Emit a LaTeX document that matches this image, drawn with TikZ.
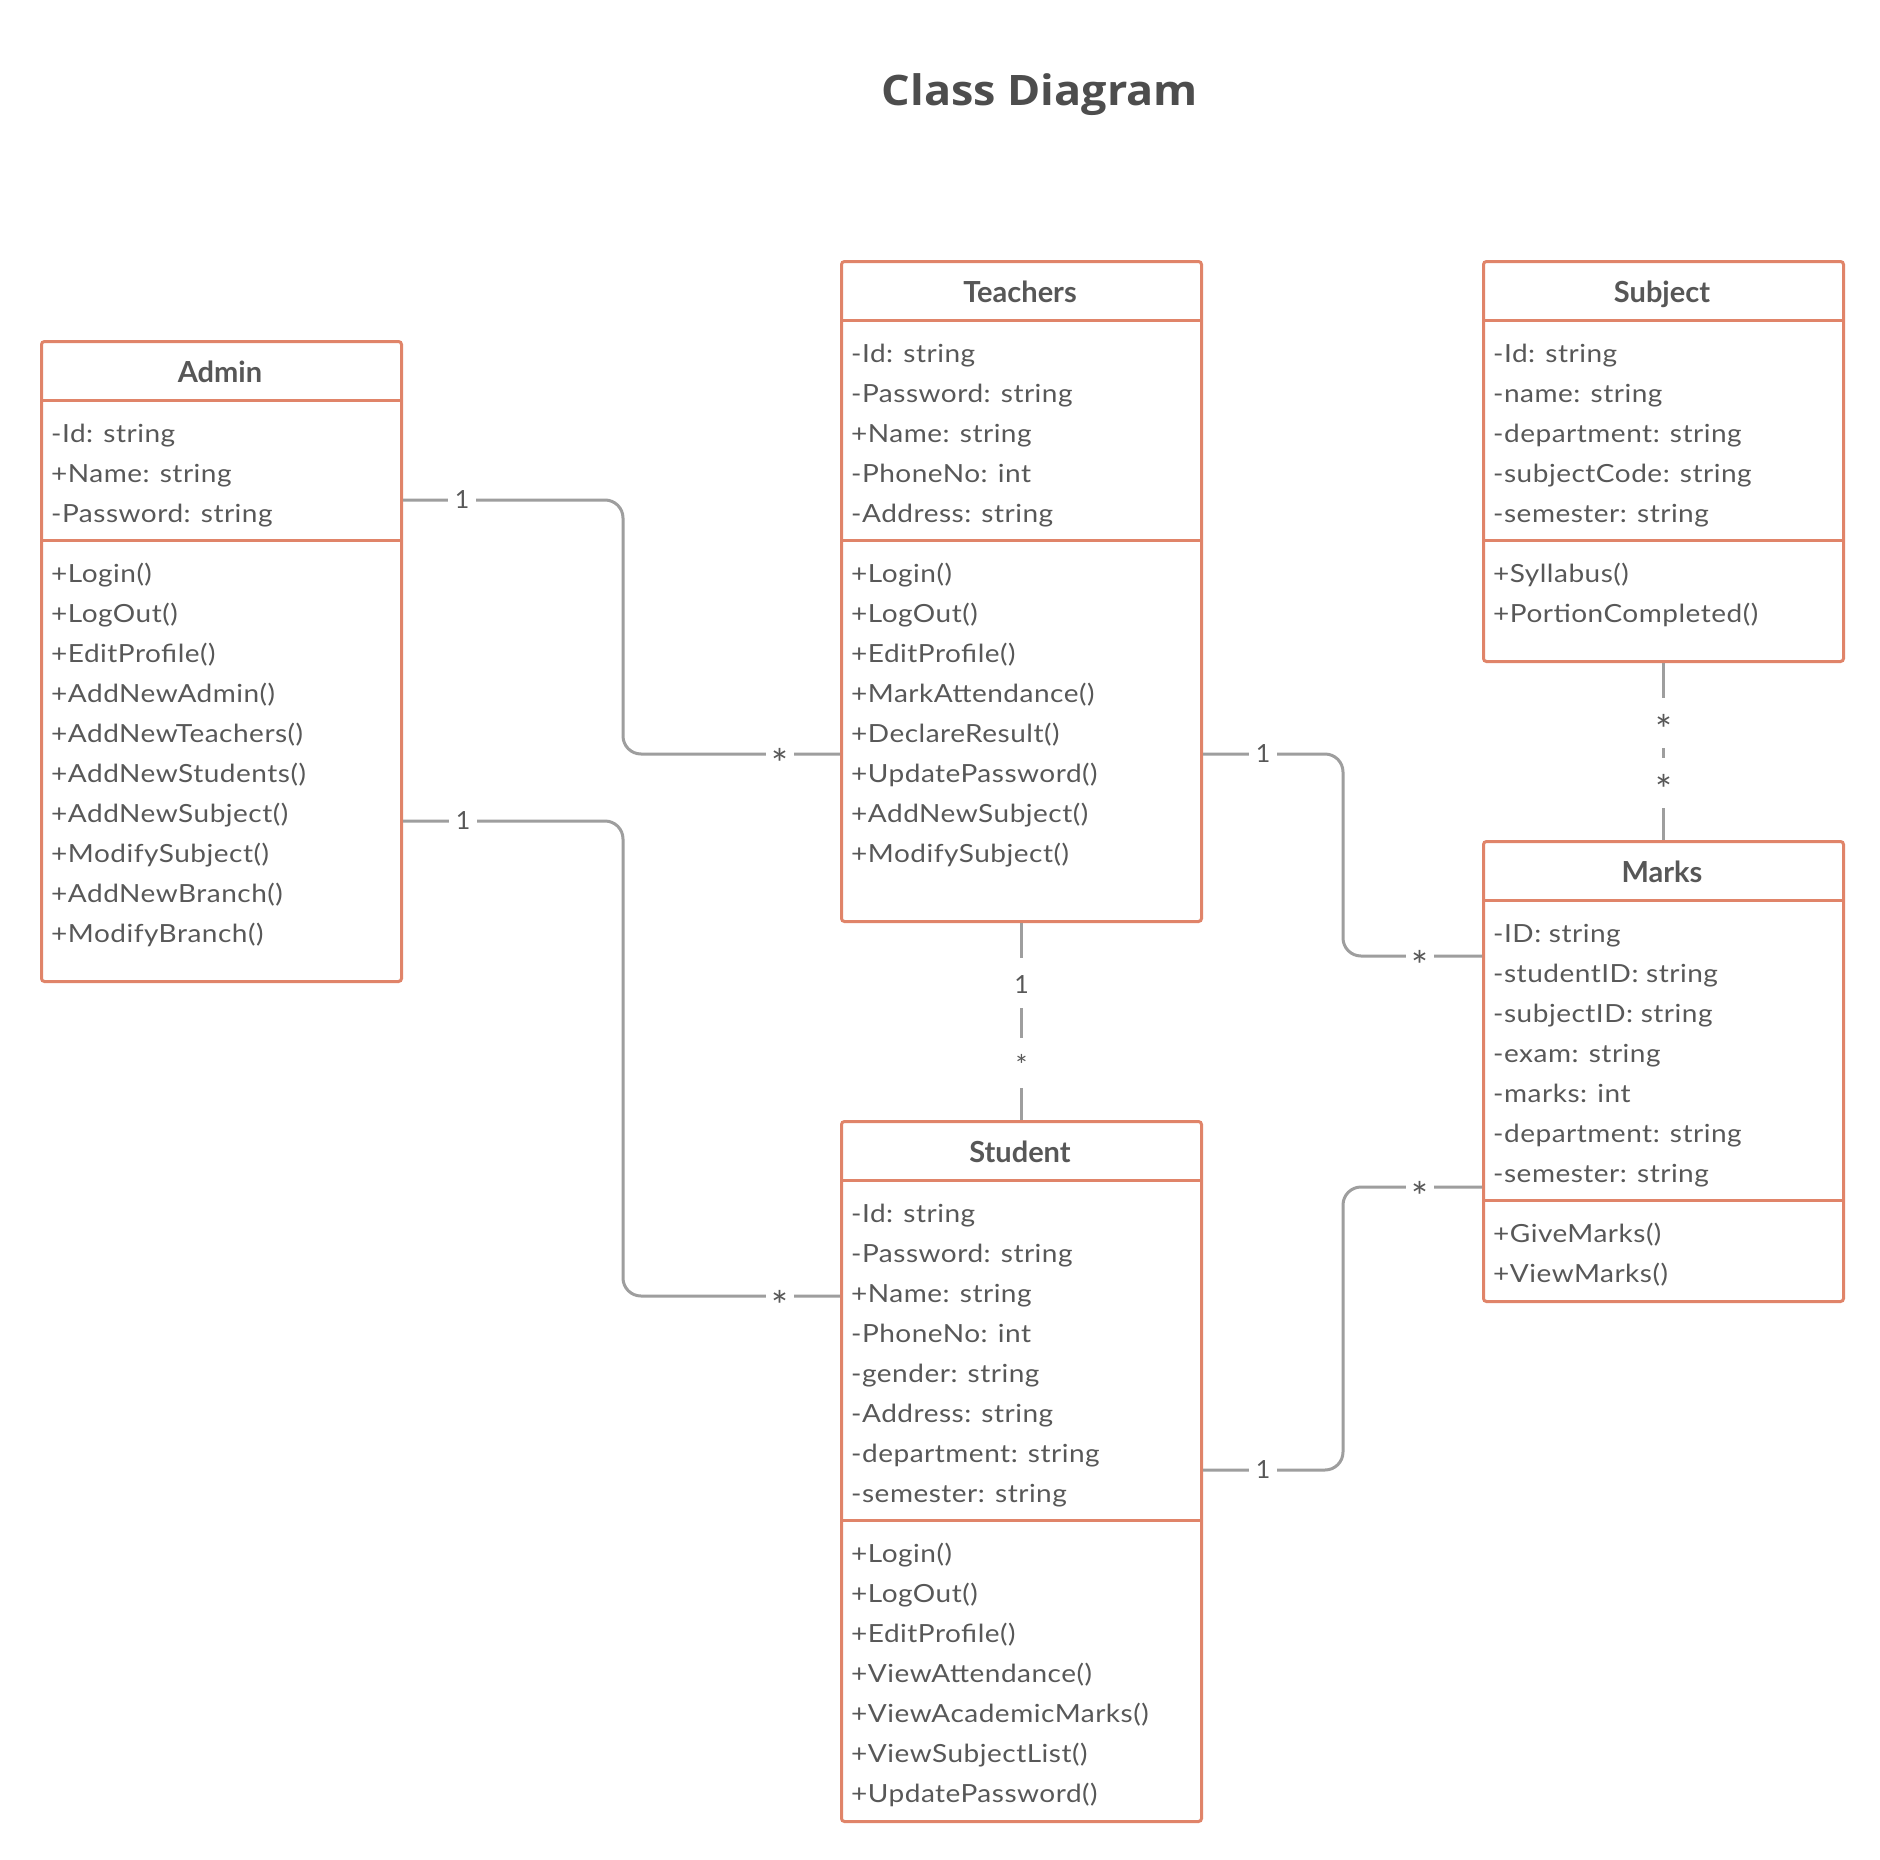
\documentclass[tikz,border=0pt]{standalone}
\usepackage{fontspec}
\setmainfont{Lato}
\newfontfamily\bodyfont{Lato}[FakeStretch=1.12, LetterSpace=2]
\newfontfamily\titlefont{Open Sans}[FakeStretch=1.07]
\usetikzlibrary{calc}
\definecolor{boxc}{HTML}{E08469}
\definecolor{linec}{HTML}{9E9E9E}
\definecolor{txt}{HTML}{585858}
\definecolor{hdr}{HTML}{575757}
\definecolor{ttl}{HTML}{4D4D4D}
\tikzset{
  classbox/.style={draw=boxc, line width=3pt, rounded corners=3pt, fill=white, inner sep=0pt, anchor=north west, minimum width=360pt},
  sepline/.style={draw=boxc, line width=3pt},
  rowtext/.style={anchor=base west, inner sep=0pt, text=txt, font=\bodyfont\fontsize{25}{28}\selectfont},
  hdrtext/.style={anchor=base, inner sep=0pt, text=hdr, font=\bfseries\fontsize{29}{32}\selectfont},
  conn/.style={draw=linec, line width=3pt, rounded corners=18pt},
  hgap/.style={fill=white, inner sep=0pt, minimum width=28pt, minimum height=12pt},
  vgap/.style={fill=white, inner sep=0pt, minimum width=12pt, minimum height=50pt},
  one/.style={inner sep=0pt, text=txt, font=\fontsize{25}{28}\selectfont},
  star/.style={inner sep=0pt, text=txt, font=\fontsize{40}{44}\selectfont, yshift=-9pt},
  smallstar/.style={inner sep=0pt, text=txt, font=\fontsize{28}{30}\selectfont, yshift=-6pt},
}
\newcommand\umlclass[8]{%
  \node[classbox, minimum height=#4pt] (#1) at (#2,#3) {};
  \draw[sepline] ([yshift=-60pt]#1.north west) -- ([yshift=-60pt]#1.north east);
  \draw[sepline] ([yshift=-#6pt]#1.north west) -- ([yshift=-#6pt]#1.north east);
  \node[hdrtext] (#1-title) at ({#2+180},{#3+42}) {#5};
  \foreach \t [count=\i from 0] in {#7}
    \node[rowtext] (#1-a\i) at ({#2+11},{#3+102+40*\i}) {\t};
  \foreach \t [count=\i from 0] in {#8}
    \node[rowtext] (#1-m\i) at ({#2+11},{#3+#6+42+40*\i}) {\t};
}
\begin{document}
\begin{tikzpicture}[x=1pt,y=-1pt]
\useasboundingbox[fill=white] (0,0) rectangle (1880,1860);

\node[anchor=base, inner sep=0pt, text=ttl, font=\titlefont\bfseries\fontsize{42}{48}\selectfont] (title) at (1040,106) {Class Diagram};

\umlclass{admin}{40}{340}{640}{Admin}{200}
  {-Id: string,+Name: string,-Password: string}
  {+Login(),+LogOut(),+EditProfile(),+AddNewAdmin(),+AddNewTeachers(),+AddNewStudents(),+AddNewSubject(),+ModifySubject(),+AddNewBranch(),+ModifyBranch()}

\umlclass{teachers}{840}{260}{660}{Teachers}{280}
  {-Id: string,-Password: string,+Name: string,-PhoneNo: int,-Address: string}
  {+Login(),+LogOut(),+EditProfile(),+MarkAttendance(),+DeclareResult(),+UpdatePassword(),+AddNewSubject(),+ModifySubject()}

\umlclass{subject}{1482}{260}{400}{Subject}{280}
  {-Id: string,-name: string,-department: string,-subjectCode: string,-semester: string}
  {+Syllabus(),+PortionCompleted()}

\umlclass{marks}{1482}{840}{460}{Marks}{360}
  {-ID: string,-studentID: string,-subjectID: string,-exam: string,-marks: int,-department: string,-semester: string}
  {+GiveMarks(),+ViewMarks()}

\umlclass{student}{840}{1120}{700}{Student}{400}
  {-Id: string,-Password: string,+Name: string,-PhoneNo: int,-gender: string,-Address: string,-department: string,-semester: string}
  {+Login(),+LogOut(),+EditProfile(),+ViewAttendance(),+ViewAcademicMarks(),+ViewSubjectList(),+UpdatePassword()}

% Admin - Teachers
\coordinate (c1s) at ([yshift=-160pt]admin.north east);
\coordinate (c1e) at ([yshift=-494pt]teachers.north west);
\draw[conn] (c1s) -- ++(220,0) |- (c1e);
\node[hgap] (g1a) at ([xshift=59pt]c1s) {};
\node[one] (l1a) at (g1a) {1};
\node[hgap] (g1b) at ([xshift=-60pt]c1e) {};
\node[star] (l1b) at (g1b) {*};

% Admin - Student
\coordinate (c2s) at ([yshift=-481pt]admin.north east);
\coordinate (c2e) at ([yshift=-176pt]student.north west);
\draw[conn] (c2s) -- ++(220,0) |- (c2e);
\node[hgap] (g2a) at ([xshift=60pt]c2s) {};
\node[one] (l2a) at (g2a) {1};
\node[hgap] (g2b) at ([xshift=-60pt]c2e) {};
\node[star] (l2b) at (g2b) {*};

% Teachers - Marks
\coordinate (c3s) at ([yshift=-494pt]teachers.north east);
\coordinate (c3e) at ([yshift=-116pt]marks.north west);
\draw[conn] (c3s) -- ++(140,0) |- (c3e);
\node[hgap] (g3a) at ([xshift=60pt]c3s) {};
\node[one] (l3a) at (g3a) {1};
\node[hgap] (g3b) at ([xshift=-62pt]c3e) {};
\node[star] (l3b) at (g3b) {*};

% Student - Marks
\coordinate (c4s) at ([yshift=-350pt]student.north east);
\coordinate (c4e) at ([yshift=-347pt]marks.north west);
\draw[conn] (c4s) -- ++(140,0) |- (c4e);
\node[hgap] (g4a) at ([xshift=60pt]c4s) {};
\node[one] (l4a) at (g4a) {1};
\node[hgap] (g4b) at ([xshift=-62pt]c4e) {};
\node[star] (l4b) at (g4b) {*};

% Teachers - Student
\draw[conn] (teachers.south) -- (student.north);
\node[vgap] (g5a) at ([yshift=-60pt]teachers.south) {};
\node[one] (l5a) at ([yshift=-62pt]teachers.south) {1};
\node[vgap] (g5b) at ([yshift=-140pt]teachers.south) {};
\node[smallstar] (l5b) at ([yshift=-136pt]teachers.south) {*};

% Subject - Marks
\draw[conn] (subject.south) -- (marks.north);
\node[vgap] (g6a) at ([yshift=-60pt]subject.south) {};
\node[star] (l6a) at ([yshift=-57pt]subject.south) {*};
\node[vgap] (g6b) at ([yshift=-120pt]subject.south) {};
\node[star] (l6b) at ([yshift=-117pt]subject.south) {*};
\end{tikzpicture}
\end{document}
